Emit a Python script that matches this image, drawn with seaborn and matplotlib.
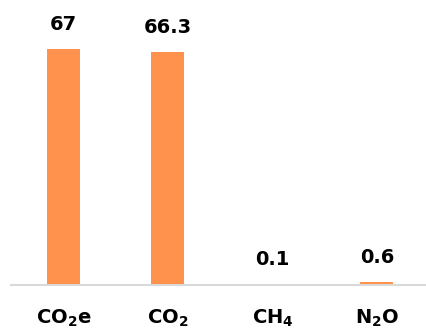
import pandas as pd
import seaborn as sns
import matplotlib.pyplot as plt

# Emissions by gas
gases = [r"$\mathbf{CO_2e}$", r"$\mathbf{CO_2}$", r"$\mathbf{CH_4}$", r"$\mathbf{N_2O}$"]
values = [67, 66.3, 0.1, 0.6]
value_labels = ["67", "66.3", "0.1", "0.6"]

df = pd.DataFrame({"Gas": gases, "Value": values})

sns.set_style("white")
plt.rcParams["font.family"] = ["DejaVu Sans"]

fig = plt.figure(figsize=(4.26, 3.31), dpi=100)
ax = fig.add_axes([11 / 426, 46 / 331, 415 / 426, 285 / 331])

sns.barplot(data=df, x="Gas", y="Value", color="#FF924D", saturation=1,
            width=0.315, linewidth=0, ax=ax)

for i, (v, lab) in enumerate(zip(values, value_labels)):
    ax.annotate(lab, (i, v), xytext=(0, 10.5), textcoords="offset points",
                ha="center", va="bottom", fontsize=14, fontweight="bold",
                color="black")

ax.set_ylim(-0.3, 81)
ax.set_xlim(-0.5, 3.47)
ax.set_xlabel("")
ax.set_ylabel("")
ax.set_yticks([])
ax.tick_params(axis="x", length=0, pad=16, labelsize=14, labelcolor="black")
for s in ["top", "right", "left"]:
    ax.spines[s].set_visible(False)
ax.spines["bottom"].set_color("#D9D9D9")
ax.spines["bottom"].set_linewidth(1.5)
ax.spines["bottom"].set_zorder(0)

fig.savefig("out.png", dpi=100)
